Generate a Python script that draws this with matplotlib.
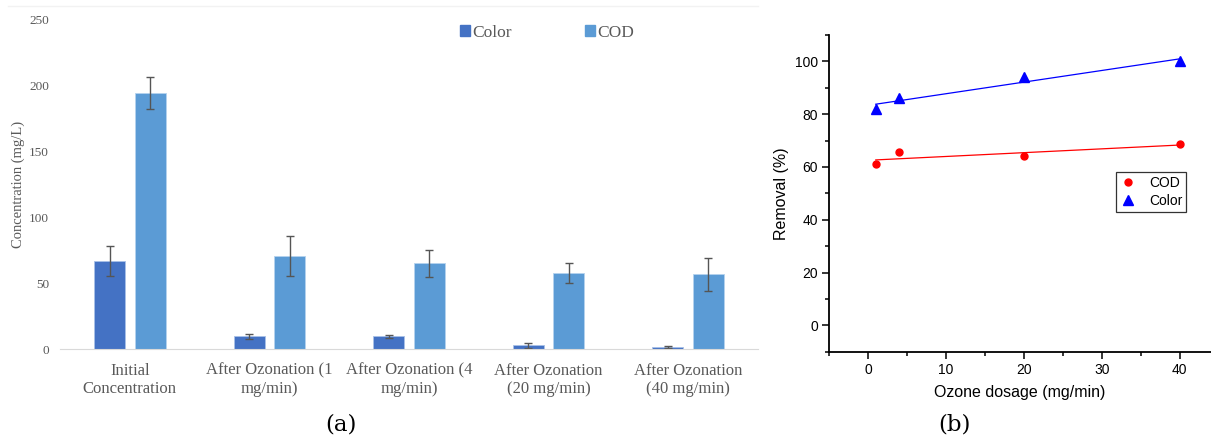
import numpy as np
import matplotlib
matplotlib.use("Agg")
import matplotlib.pyplot as plt
from matplotlib.patches import Patch
from matplotlib.lines import Line2D
from matplotlib.ticker import MultipleLocator

# ---------------- data ----------------
categories = ["Initial\nConcentration", "After Ozonation (1\nmg/min)",
              "After Ozonation (4\nmg/min)", "After Ozonation\n(20 mg/min)",
              "After Ozonation\n(40 mg/min)"]
color_conc = [66.5, 9.6, 9.5, 2.8, 1.5]
color_err = [11.5, 2.0, 1.3, 1.7, 1.0]
cod_conc = [194, 70.5, 64.8, 57.5, 56.8]
cod_err = [12, 15, 10, 7.5, 12.5]

dosage = [1, 4, 20, 40]
cod_removal = [61, 65.7, 64, 68.8]
color_removal = [82, 86, 94, 100]

W, H = 1211, 437
fig = plt.figure(figsize=(W / 100, H / 100), dpi=100)

# ---------------- panel (a) ----------------
gray = "#595959"
serif = ["Liberation Serif", "DejaVu Serif"]
axa = fig.add_axes([60 / W, 1 - 349 / H, 698 / W, 330 / H])
x = np.arange(len(categories))
bw = 0.222
off = 0.145
c1, c2 = "#4472C4", "#5B9BD5"
axa.bar(x - off, color_conc, bw, color=c1, edgecolor="#A9C1E8", linewidth=0.6,
        yerr=color_err, error_kw=dict(ecolor="#555555", elinewidth=1.0, capsize=3, capthick=1.0),
        zorder=2)
axa.bar(x + off, cod_conc, bw, color=c2, edgecolor="#B5D3EE", linewidth=0.6,
        yerr=cod_err, error_kw=dict(ecolor="#555555", elinewidth=1.0, capsize=3, capthick=1.0),
        zorder=2)
axa.set_xlim(-0.5, len(categories) - 0.5)
axa.set_ylim(0, 250)
axa.set_yticks([0, 50, 100, 150, 200, 250])
axa.set_xticks(x)
axa.set_xticklabels(categories, family=serif, fontsize=12, color=gray, linespacing=1.15)
for lab in axa.get_yticklabels():
    lab.set_family(serif)
    lab.set_fontsize(9.5)
    lab.set_color(gray)
axa.tick_params(axis="both", length=0)
axa.tick_params(axis="x", pad=10)
axa.tick_params(axis="y", pad=8)
for s in ["top", "right", "left"]:
    axa.spines[s].set_visible(False)
axa.spines["bottom"].set_color("#D9D9D9")
axa.set_ylabel("Concentration (mg/L)", family=serif, fontsize=10.5, color=gray)
axa.yaxis.set_label_coords(-0.05, 0.5)
leg = axa.legend(handles=[Patch(color=c1, label="Color"), Patch(color=c2, label="COD")],
                 loc="center", bbox_to_anchor=(0.698, 0.958), ncol=2, frameon=False,
                 handlelength=0.55, handleheight=0.55, handletextpad=0.15,
                 columnspacing=4.2, prop={"family": serif, "size": 12.5})
for t in leg.get_texts():
    t.set_color(gray)
fig.add_artist(Line2D([8 / W, 758 / W], [1 - 6 / H, 1 - 6 / H], color="#F2F2F2", lw=1))

# ---------------- panel (b) ----------------
axb = fig.add_axes([829 / W, 1 - 351.7 / H, 382 / W, 316.7 / H])
sans = ["Liberation Sans", "DejaVu Sans"]
xd = np.array(dosage, dtype=float)
for yv, col, mk, ms, lab in [(cod_removal, "red", "o", 5, "COD"),
                             (color_removal, "blue", "^", 6.5, "Color")]:
    yv = np.array(yv, dtype=float)
    axb.plot(xd, yv, linestyle="none", marker=mk, color=col, markersize=ms, label=lab, zorder=3)
    k, b = np.polyfit(xd, yv, 1)
    axb.plot(xd[[0, -1]], k * xd[[0, -1]] + b, color=col, lw=0.9, zorder=2)
axb.set_xlim(-5, 44)
axb.set_ylim(-10, 110)
axb.xaxis.set_major_locator(MultipleLocator(10))
axb.xaxis.set_minor_locator(MultipleLocator(5))
axb.yaxis.set_major_locator(MultipleLocator(20))
axb.yaxis.set_minor_locator(MultipleLocator(10))
axb.tick_params(which="major", direction="out", length=5, width=1.1, labelsize=10, pad=3)
axb.tick_params(which="minor", direction="out", length=3, width=1.1)
for lab in axb.get_xticklabels() + axb.get_yticklabels():
    lab.set_family(sans)
for s in ["top", "right"]:
    axb.spines[s].set_visible(False)
for s in ["left", "bottom"]:
    axb.spines[s].set_linewidth(1.3)
axb.set_xlabel("Ozone dosage (mg/min)", family=sans, fontsize=11.5, labelpad=6)
axb.set_ylabel("Removal (%)", family=sans, fontsize=11.5, labelpad=4)
lg = axb.legend(loc="center", bbox_to_anchor=(0.843, 0.504), fancybox=False,
                framealpha=1, edgecolor="#333333", borderpad=0.3, handlelength=1.2,
                handletextpad=0.9, labelspacing=0.25, prop={"family": sans, "size": 10})
lg.get_frame().set_linewidth(0.9)

# captions
fig.text(341 / W, 1 - 424 / H, "(a)", family=["DejaVu Serif"], fontsize=16.5,
         ha="center", va="center")
fig.text(954 / W, 1 - 424 / H, "(b)", family=["DejaVu Serif"], fontsize=16.5,
         ha="center", va="center")

fig.savefig("out.png", dpi=100)
